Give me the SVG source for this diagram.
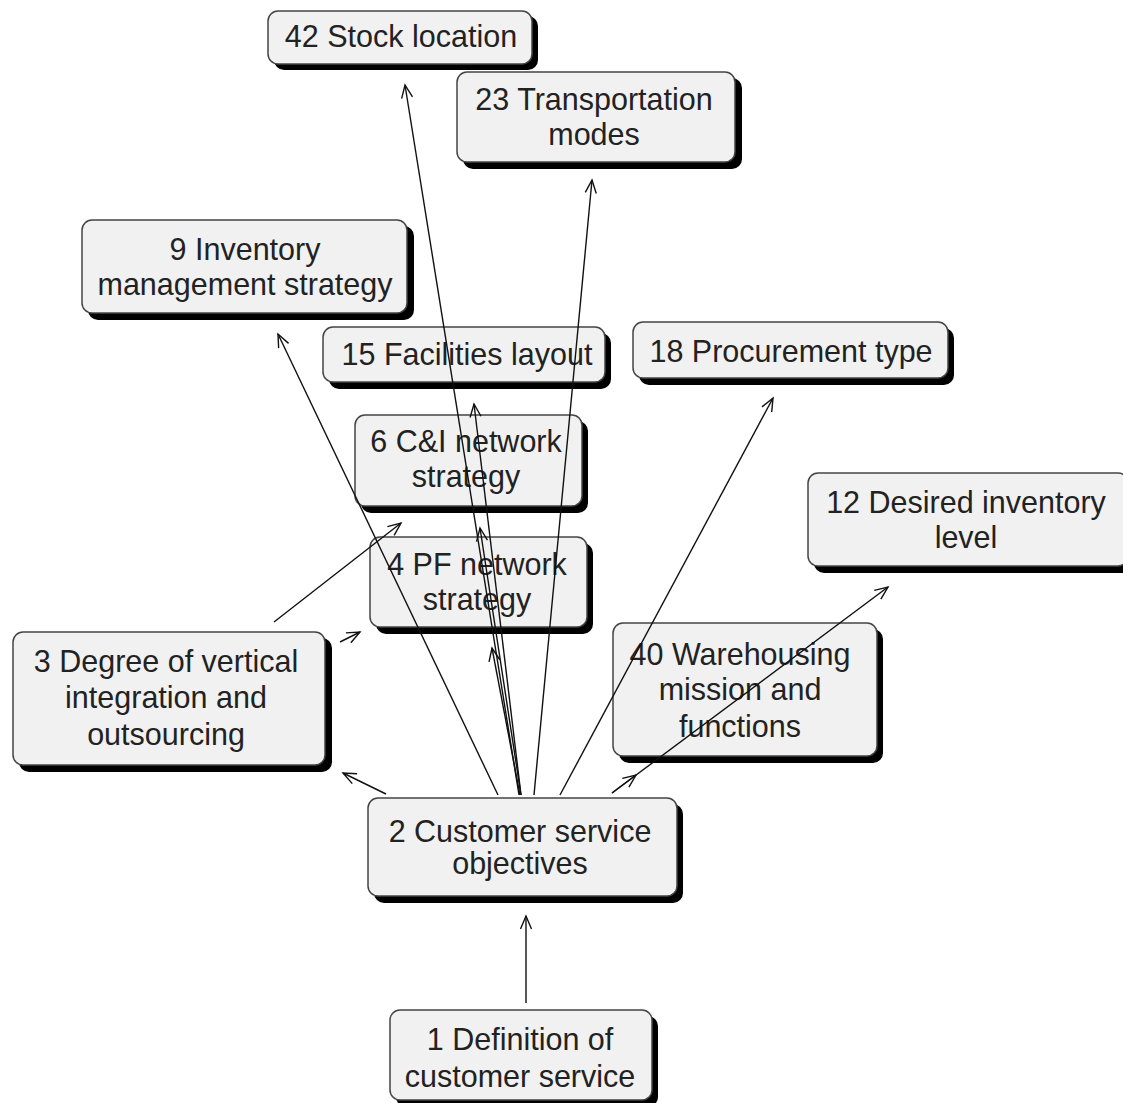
<svg xmlns="http://www.w3.org/2000/svg" width="1123" height="1103" viewBox="0 0 1123 1103">
  <defs>
    <marker id="arrow" viewBox="-14 -7 16 14" refX="0" refY="0" markerWidth="16" markerHeight="14" markerUnits="userSpaceOnUse" orient="auto">
      <path d="M -13 -5.5 L 0 0 L -13 5.5" fill="none" stroke="#111" stroke-width="1.4"/>
    </marker>
  </defs>
  <style>
    .shadow { fill: #000; }
    .box { fill: #f1f1f1; stroke: #444; stroke-width: 1.5; }
    .label { font-family: "Liberation Sans", Arial, sans-serif; font-size: 30.5px; fill: #222; text-anchor: middle; }
    .edge { stroke: #111; stroke-width: 1.4; fill: none; marker-end: url(#arrow); }
  </style>
  <rect width="1123" height="1103" fill="#fff"/>

  <!-- nodes: shadow + rounded box + centred label -->
  <g id="n42">
    <rect class="shadow" x="274" y="16" width="264" height="54" rx="10"/>
    <rect class="box" x="268" y="11" width="264" height="53" rx="10"/>
    <text class="label" x="401" y="47">42 Stock location</text>
  </g>
  <g id="n23">
    <rect class="shadow" x="463" y="78" width="279" height="91" rx="10"/>
    <rect class="box" x="457" y="72" width="278" height="90" rx="10"/>
    <text class="label" x="594" y="110">23 Transportation</text>
    <text class="label" x="594" y="145">modes</text>
  </g>
  <g id="n9">
    <rect class="shadow" x="88" y="226" width="326" height="94" rx="10"/>
    <rect class="box" x="82" y="220" width="325" height="93" rx="10"/>
    <text class="label" x="245" y="260">9 Inventory</text>
    <text class="label" x="245" y="295">management strategy</text>
  </g>
  <g id="n15">
    <rect class="shadow" x="329" y="333" width="282" height="56" rx="10"/>
    <rect class="box" x="323" y="327" width="282" height="55" rx="10"/>
    <text class="label" x="467" y="365">15 Facilities layout</text>
  </g>
  <g id="n18">
    <rect class="shadow" x="639" y="328" width="315" height="57" rx="10"/>
    <rect class="box" x="633" y="322" width="315" height="56" rx="10"/>
    <text class="label" x="791" y="362">18 Procurement type</text>
  </g>
  <g id="n6">
    <rect class="shadow" x="361" y="421" width="227" height="92" rx="10"/>
    <rect class="box" x="355" y="415" width="227" height="91" rx="10"/>
    <text class="label" x="466" y="452">6 C&amp;I network</text>
    <text class="label" x="466" y="487">strategy</text>
  </g>
  <g id="n12">
    <rect class="shadow" x="814" y="479" width="320" height="94" rx="10"/>
    <rect class="box" x="808" y="473" width="320" height="93" rx="10"/>
    <text class="label" x="966" y="513">12 Desired inventory</text>
    <text class="label" x="966" y="548">level</text>
  </g>
  <g id="n4">
    <rect class="shadow" x="376" y="543" width="217" height="91" rx="10"/>
    <rect class="box" x="370" y="537" width="217" height="90" rx="10"/>
    <text class="label" x="477" y="575">4 PF network</text>
    <text class="label" x="477" y="610">strategy</text>
  </g>
  <g id="n3">
    <rect class="shadow" x="19" y="638" width="313" height="134" rx="10"/>
    <rect class="box" x="13" y="632" width="312" height="133" rx="10"/>
    <text class="label" x="166" y="672">3 Degree of vertical</text>
    <text class="label" x="166" y="708">integration and</text>
    <text class="label" x="166" y="745">outsourcing</text>
  </g>
  <g id="n40">
    <rect class="shadow" x="619" y="629" width="264" height="134" rx="10"/>
    <rect class="box" x="613" y="623" width="264" height="133" rx="10"/>
    <text class="label" x="740" y="665">40 Warehousing</text>
    <text class="label" x="740" y="700">mission and</text>
    <text class="label" x="740" y="737">functions</text>
  </g>
  <g id="n2">
    <rect class="shadow" x="374" y="804" width="309" height="99" rx="10"/>
    <rect class="box" x="368" y="798" width="309" height="98" rx="10"/>
    <text class="label" x="520" y="842">2 Customer service</text>
    <text class="label" x="520" y="874">objectives</text>
  </g>
  <g id="n1">
    <rect class="shadow" x="396" y="1016" width="262" height="91" rx="10"/>
    <rect class="box" x="390" y="1010" width="262" height="90" rx="10"/>
    <text class="label" x="520" y="1050">1 Definition of</text>
    <text class="label" x="520" y="1087">customer service</text>
  </g>

  <!-- connectors, drawn over the boxes -->
  <g id="connectors">
    <line class="edge" x1="526" y1="1003" x2="526" y2="916"/>
    <line class="edge" x1="386" y1="794" x2="343" y2="773"/>
    <line class="edge" x1="340" y1="642" x2="360" y2="632"/>
    <line class="edge" x1="274" y1="622" x2="401" y2="523"/>
    <line class="edge" x1="498" y1="795" x2="278" y2="334"/>
    <line class="edge" x1="519" y1="795" x2="405" y2="85"/>
    <line class="edge" x1="534" y1="795" x2="592" y2="180"/>
    <line class="edge" x1="560" y1="795" x2="773" y2="398"/>
    <line class="edge" x1="521" y1="795" x2="474" y2="404"/>
    <line class="edge" x1="521" y1="795" x2="480" y2="528"/>
    <line class="edge" x1="520" y1="795" x2="492" y2="648"/>
    <line class="edge" x1="612" y1="793" x2="636" y2="775"/>
    <line class="edge" x1="612" y1="793" x2="888" y2="587"/>
  </g>
</svg>
